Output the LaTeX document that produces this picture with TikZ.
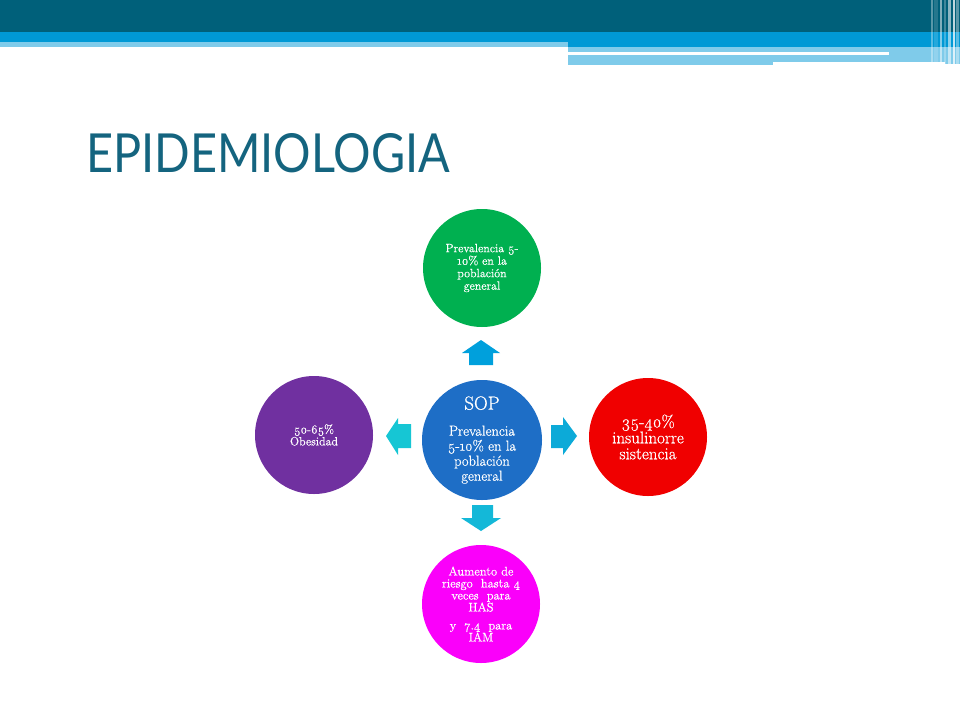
\documentclass[tikz,border=0pt]{standalone}
\usepackage{fontspec}
\newfontfamily\titlefont{Lato}
\newfontfamily\circfont{Latin Modern Roman}[Numbers=OldStyle, FakeBold=0.7]
\newcommand\osn[1]{#1}
\definecolor{hdark}{RGB}{0,96,122}
\definecolor{hmid}{RGB}{0,153,213}
\definecolor{hlight}{RGB}{127,203,234}
\definecolor{titlecol}{RGB}{20,100,127}
\definecolor{cgreen}{RGB}{0,176,80}
\definecolor{cblue}{RGB}{30,110,198}
\definecolor{cred}{RGB}{240,0,0}
\definecolor{cpurple}{RGB}{112,48,160}
\definecolor{cmag}{RGB}{250,0,250}
\definecolor{aup}{RGB}{0,160,220}
\definecolor{aright}{RGB}{12,170,216}
\definecolor{adown}{RGB}{20,184,216}
\definecolor{aleft}{RGB}{22,198,212}
\begin{document}
\begin{tikzpicture}[x=1pt,y=-1pt,
  circ/.style={circle, inner sep=0pt, minimum size=118pt, text=white, align=center},
  stripe/.style={fill=white, opacity=#1}]
\useasboundingbox (0,0) rectangle (960,720);
\fill[white] (0,0) rectangle (960,720);
% header
\fill[hdark] (0,0) rectangle (960,32);
\fill[hmid] (0,32) rectangle (960,42);
\fill[hmid] (568,42) rectangle (960,47);
\fill[hlight] (0,42) rectangle (568,47);
\fill[hlight] (568,47) rectangle (945,62);
\fill[hlight] (568,62) rectangle (773,65);
\fill[white] (568,52) rectangle (889,55);
\fill[hlight] (945,47) rectangle (960,64);
% right stripes
\fill[stripe=0.35] (931,0) rectangle (932.5,64);
\fill[stripe=0.15] (934,0) rectangle (937.5,64);
\fill[stripe=0.5] (940,0) rectangle (941.5,64);
\fill[stripe=0.25] (944,0) rectangle (946,64);
\fill[stripe=0.55] (948,0) rectangle (951,64);
\fill[stripe=0.75] (953,0) rectangle (954.5,64);
\fill[stripe=0.35] (956,0) rectangle (958.5,64);
% title
\node[anchor=base west, inner sep=0pt, text=titlecol] (title) at (86,172)
  {\resizebox{364pt}{39pt}{\titlefont EPIDEMIOLOGIA}};
% circles
\node[circ, fill=cgreen, font=\circfont\fontsize{12}{12.5}\selectfont] (top) at (482,268)
  {Prevalencia \osn{5}-\\\osn{10}\% en la\\población\\general};
\node[circ, fill=cblue, minimum size=120pt, font=\circfont\fontsize{14.5}{15}\selectfont] (sop) at (482,440)
  {{\fontsize{19}{19}\selectfont SOP}\\[11pt]Prevalencia\\\osn{5}-\osn{10}\% en la\\población\\general};
\node[circ, fill=cred, font=\circfont\fontsize{17}{16}\selectfont] (right) at (648,437)
  {\osn{35}-\osn{40}\%\\insulinorre\\sistencia};
\node[circ, fill=cpurple, font=\circfont\fontsize{12}{10}\selectfont] (left) at (314,435)
  {\osn{50}-\osn{65}\%\\Obesidad};
\node[circ, fill=cmag, font=\circfont\fontsize{12.5}{12}\selectfont] (bottom) at (481,604)
  {Aumento de\\riesgo\ \ hasta \osn{4}\\veces\ \ para\\HAS\\[6pt]y\ \ \osn{7}.\osn{4}\ \ para\\IAM};
% block arrows
\fill[aup] (469,365) -- (469,353) -- (462,353) -- (481,340) -- (500,353) -- (493,353) -- (493,365) -- cycle;
\fill[aright] (551,425) -- (563,425) -- (563,417) -- (577,436) -- (563,455) -- (563,448) -- (551,448) -- cycle;
\fill[aleft] (411,424) -- (398,424) -- (398,418) -- (386,436) -- (398,455) -- (398,448) -- (411,448) -- cycle;
\fill[adown] (472,505) -- (493,505) -- (493,518) -- (501,518) -- (481,531) -- (461,518) -- (472,518) -- cycle;
\end{tikzpicture}
\end{document}
